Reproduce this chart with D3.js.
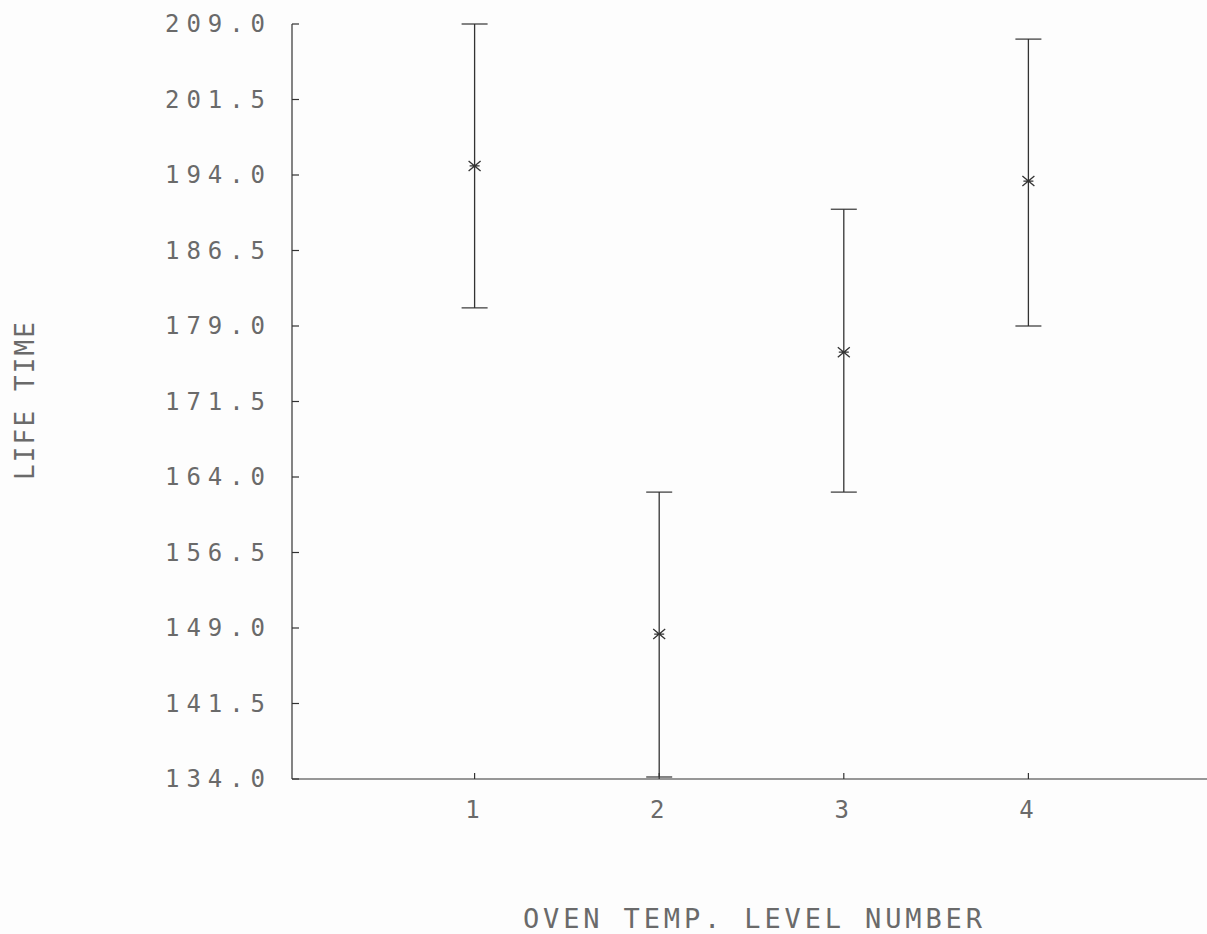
<!DOCTYPE html>
<html>
<head>
<meta charset="utf-8">
<script src="https://cdn.jsdelivr.net/npm/d3@7"></script>
<style>
  body { margin: 0; background: #fdfdfd; }
  svg { display: block; }
</style>
</head>
<body>
<div class="chart"></div>
<script>
  const levels = [1, 2, 3, 4];
  const means = [194.9, 148.4, 176.4, 193.4];
  const lows = [180.8, 134.2, 162.5, 179.0];
  const highs = [209.0, 162.5, 190.6, 207.5];
  const yTicks = [134.0, 141.5, 149.0, 156.5, 164.0, 171.5, 179.0, 186.5, 194.0, 201.5, 209.0];

  const width = 1207;
  const height = 934;
  const ink = "#333";
  const textInk = "#6a6a6a";

  const svg = d3.select('.chart')
    .append("svg")
    .attr("width", width)
    .attr("height", height);

  const x = d3.scaleLinear()
    .domain([0, 5])
    .range([290, 1213]);

  const y = d3.scaleLinear()
    .domain([134, 209])
    .range([779, 24]);

  // axis lines
  svg.append("line")
    .attr("x1", 292).attr("x2", 292)
    .attr("y1", y(209)).attr("y2", y(134))
    .attr("stroke", ink).attr("stroke-width", 1.2);
  svg.append("line")
    .attr("x1", 292).attr("x2", width)
    .attr("y1", y(134)).attr("y2", y(134))
    .attr("stroke", ink).attr("stroke-width", 1.2);

  // y ticks
  svg.selectAll(".ytick")
    .data(yTicks)
    .enter()
    .append("line")
    .attr("class", "ytick")
    .attr("x1", 292).attr("x2", 299)
    .attr("y1", d => y(d)).attr("y2", d => y(d))
    .attr("stroke", ink).attr("stroke-width", 1.2);

  svg.selectAll(".ylabel")
    .data(yTicks)
    .enter()
    .append("text")
    .attr("class", "ylabel")
    .attr("x", 165)
    .attr("y", d => y(d) + 8)
    .attr("textLength", 100)
    .attr("lengthAdjust", "spacing")
    .attr("font-family", "DejaVu Sans Mono")
    .attr("font-size", "24px")
    .attr("font-weight", 300)
    .attr("fill", textInk)
    .text(d => d.toFixed(1));

  // x ticks
  svg.selectAll(".xtick")
    .data(levels)
    .enter()
    .append("line")
    .attr("class", "xtick")
    .attr("x1", d => x(d)).attr("x2", d => x(d))
    .attr("y1", y(134)).attr("y2", y(134) - 6)
    .attr("stroke", ink).attr("stroke-width", 1.2);

  svg.selectAll(".xlabel")
    .data(levels)
    .enter()
    .append("text")
    .attr("class", "xlabel")
    .attr("x", d => x(d) - 2)
    .attr("y", 818)
    .attr("text-anchor", "middle")
    .attr("font-family", "DejaVu Sans Mono")
    .attr("font-size", "24px")
    .attr("fill", textInk)
    .text(d => d);

  // error bars
  const bars = levels.map((l, i) => ({ level: l, mean: means[i], lo: lows[i], hi: highs[i] }));

  svg.selectAll(".bar")
    .data(bars)
    .enter()
    .append("line")
    .attr("class", "bar")
    .attr("x1", d => x(d.level)).attr("x2", d => x(d.level))
    .attr("y1", d => y(d.hi)).attr("y2", d => y(d.lo))
    .attr("stroke", ink).attr("stroke-width", 1.3);

  svg.selectAll(".capTop")
    .data(bars)
    .enter()
    .append("line")
    .attr("class", "capTop")
    .attr("x1", d => x(d.level) - 13).attr("x2", d => x(d.level) + 13)
    .attr("y1", d => y(d.hi)).attr("y2", d => y(d.hi))
    .attr("stroke", ink).attr("stroke-width", 1.2);

  svg.selectAll(".capBot")
    .data(bars)
    .enter()
    .append("line")
    .attr("class", "capBot")
    .attr("x1", d => x(d.level) - 13).attr("x2", d => x(d.level) + 13)
    .attr("y1", d => y(d.lo)).attr("y2", d => y(d.lo))
    .attr("stroke", ink).attr("stroke-width", 1.2);

  // mean markers (x shaped)
  const mk = svg.selectAll(".mean")
    .data(bars)
    .enter()
    .append("g")
    .attr("class", "mean")
    .attr("transform", d => `translate(${x(d.level)},${y(d.mean)})`);
  mk.append("path")
    .attr("d", "M-6,-5L6,5M-6,5L6,-5M-5,0L5,0")
    .attr("stroke", ink).attr("stroke-width", 1.3)
    .attr("fill", "none");

  // axis titles
  svg.append("text")
    .attr("transform", "translate(34,401) rotate(-90)")
    .attr("text-anchor", "middle")
    .attr("textLength", 158)
    .attr("lengthAdjust", "spacing")
    .attr("font-family", "DejaVu Sans Mono")
    .attr("font-size", "26px")
    .attr("fill", textInk)
    .text("LIFE TIME");

  svg.append("text")
    .attr("x", 523)
    .attr("y", 928)
    .attr("textLength", 459)
    .attr("lengthAdjust", "spacing")
    .attr("font-family", "DejaVu Sans Mono")
    .attr("font-size", "27px")
    .attr("fill", textInk)
    .text("OVEN TEMP. LEVEL NUMBER");
</script>
</body>
</html>
